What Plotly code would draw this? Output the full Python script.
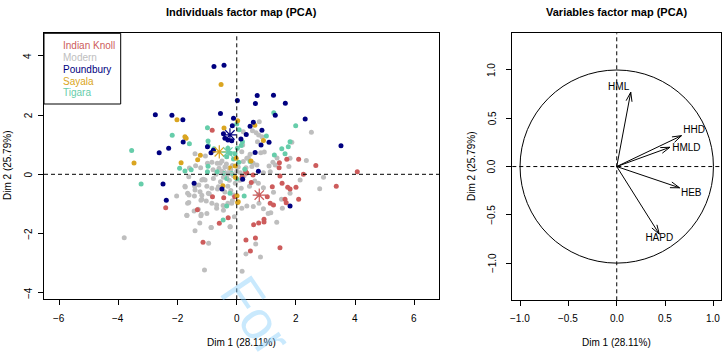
import math
import plotly.graph_objects as go

W, H = 723, 358

# ---------------- data: individuals (Dim1, Dim2) ----------------
ik_x = [-0.83, 1.44, 1.69, 2.09, 2.67, 1.43, 4.07, 0.30, 1.46, 2.25, 3.36, 0.49, 1.20, 1.53, 1.72, 1.80, 2.00,
        2.09, 1.63, 1.67, 1.03, 1.13, 1.24, 0.92, 0.92, 0.74, 0.57, 0.31, 0.63, 1.46, 0.46, -2.40, -1.33, -0.82,
        -0.44, -0.59, -0.29, -1.14, 0.18, -0.07, 0.55, 0.34]
ik_y = [1.49, 0.39, 0.51, 0.51, 0.30, 0.22, 0.09, 0.09, -0.06, 0.00, -0.40, -0.28, -0.42, -0.30, -0.44, -0.50, -0.44,
        -0.84, -0.84, -0.96, -0.76, -0.98, -1.04, -1.52, -1.61, -1.64, -1.70, -2.22, -2.15, -2.48, -2.59, -1.13, -1.20, -0.76,
        -0.79, -1.65, -1.47, -2.29, -0.08, -0.76, -0.02, 0.04]

mod_x = [2.52, 0.76, 0.65, 0.74, 1.86, 0.93, 0.81, 1.36, 1.22, 2.35, 1.09, 0.53, 0.85, 0.70, 1.30, 1.80, 1.76, 2.93,
         -1.41, -1.06, -1.60, -1.39, -0.66, 0.39, 0.31, 0.51, 0.68, 1.13, 0.90, -0.84, -1.22,
         -1.62, -1.75, -1.42, -1.13, -1.01, -2.03, -1.66, -1.43, -1.24, -0.96, -1.18, -0.84, -1.66, -1.44, -1.30, -1.01,
         -1.69, -1.21, -0.68, -0.45, -0.17, -1.41, -0.86, -0.23, -3.80, -0.95, -1.09, 0.18, 0.80, 0.64, 0.31, 1.15, 1.35,
         1.06, 0.90, 0.73, 0.75, 0.56, 0.34, 1.54, 1.51, 1.24, 1.80, 2.14, 2.80, 0.73, 0.61, 0.90, 0.15, 0.43,
         -1.74, -1.41, -1.28, -1.61, -1.18, -0.93, -1.62, -1.21, -1.03, -1.68, -1.20, -1.25, -0.87, -0.68, -0.46, -0.30,
         -0.15, -0.22, -0.08, 0.17, -1.07, -0.79, -0.62, -0.84, -1.18, -0.99, -0.56, 0.17, 0.22, 0.56, 0.34, 0.20, 0.22,
         0.45, -0.60, -0.50, -0.40, -0.30, -0.20, -0.10, 0.00, -0.45, -0.25, -0.55, -0.35, -0.15, -0.05, 0.10, -0.70,
         -0.30, -0.50, 0.05, -0.20, 0.12, -0.80, -0.65, -0.40, 0.25, -0.10]
mod_y = [1.42, 1.77, 1.40, 1.33, 1.08, 0.75, 0.73, 0.55, 0.41, 0.47, 0.28, 1.47, 1.27, 1.10, 0.31, 0.54, 0.26, -0.10,
         0.69, 0.62, 0.21, 0.29, 0.37, 0.56, 0.22, 0.26, 0.31, 0.09, 0.05, 0.41, 0.22,
         -0.08, -0.40, -0.40, -0.17, -0.40, -0.73, -0.64, -0.73, -0.59, -0.64, -0.84, -0.98, -0.98, -1.24, -1.18, -1.32,
         -1.38, -1.40, -1.15, -1.21, -0.98, -1.91, -1.80, -1.77, -2.14, -2.33, -3.23, -3.27, -2.79, -2.35, -2.69, -1.30, -1.62,
         -1.32, -1.16, -0.68, -0.98, -1.09, -1.07, -1.15, -0.84, -0.61, -0.64, -0.19, -0.49, -0.30, -0.23, -0.45, -0.47, -0.40,
         -0.43, -0.53, -0.36, -0.70, -0.71, -0.66, -0.95, -0.88, -0.90, -1.39, -1.35, -1.64, -1.80, -1.04, -1.05, -0.98,
         -0.89, -1.77, -1.43, -1.15, -0.19, -0.14, -0.42, -0.47, -0.19, 0.37, 0.37, 0.76, 0.43, 0.37, 0.54, 0.99, 1.44,
         0.68, 0.20, 0.10, 0.25, 0.00, 0.15, -0.05, 0.10, -0.10, -0.20, -0.25, 0.35, 0.30, -0.30, -0.20, 0.00,
         -0.40, 0.45, 0.25, -0.55, 0.05, 0.15, -0.50, -0.60, -0.05, -0.70]

pb_x = [-0.77, -0.43, 0.02, -2.75, -2.19, -1.82, -0.55, -0.11, -0.15, -1.81, -0.40, -0.30, -0.17, -0.45, -2.30, -2.62,
        -0.87, -0.79, -0.99, 0.69, 1.24, 0.63, 1.64, 1.30, 2.31, 0.56, 0.45, 0.85, 0.32, 3.52, 1.09, 0.82, 0.62, 0.73,
        -2.49, -2.38, -1.44, -0.50, 1.80, 0.20, 0.14]
pb_y = [3.64, 3.68, 2.49, 2.01, 1.99, 1.84, 2.05, 1.89, 1.64, 1.09, 1.22, 1.16, 1.13, 1.37, 0.88, 0.73,
        0.73, 0.81, 0.93, 2.66, 2.67, 2.39, 2.40, 1.99, 1.87, 1.76, 1.62, 1.49, 1.34, 0.96, 1.08, 0.99, 0.74, 0.10,
        -0.33, -0.88, -0.30, -0.50, -1.07, -0.17, 1.19]

say_x = [-0.53, -2.02, 0.03, -0.43, -1.75, -1.71, -3.47, -1.23, -1.32, -1.88, 0.61, 0.90, 0.48, -0.47, 0.03,
         -0.05, -0.23, -0.02, -0.05, 0.05, 0.01]
say_y = [3.03, 1.84, 1.81, 1.56, 1.27, 1.22, 0.38, 0.64, 0.49, 0.39, 1.66, 1.14, 0.45, -0.39, -0.95,
         0.28, 0.21, 0.54, -0.10, -0.93, -0.72]

tig_x = [-0.99, -2.18, -1.60, -3.55, -0.96, -1.93, -1.75, -1.54, 1.25, 1.99, 1.00, 1.80, 1.74, 1.52, 1.63, -3.23,
         -0.34, -0.46, 0.25, -0.97, -0.77, -0.99, -0.97, -0.30, -0.22, -0.06, 0.02, 0.15, -0.34, -0.11, 0.07, 0.00,
         0.08, 0.19, 1.27, 0.45, 0.27, -0.66, -0.42, -0.17, 0.00, -0.34, -0.23]
tig_y = [1.57, 1.32, 1.03, 0.80, 0.97, 0.20, 0.11, 0.15, 2.08, 1.64, 1.29, 1.10, 0.93, 0.86, 0.69, -0.33,
         -1.07, -1.54, -0.73, 1.12, 0.86, 0.09, 0.27, 0.88, 0.71, 0.69, 0.88, 0.97, 0.59, 0.52, 0.41, 1.70,
         1.50, 1.10, 0.65, 0.43, 0.17, 0.09, 0.03, 0.03, -0.15, -0.14, -0.64]

groups = ["Indian Knoll", "Modern", "Poundbury", "Sayala", "Tigara"]
group_colors = ["#CD5C5C", "#BEBEBE", "#000080", "#DAA520", "#66CDAA"]
centroid_x = [0.76, -0.30, -0.23, -0.59, -0.30]
centroid_y = [-0.70, 0.05, 1.33, 0.76, 0.75]

# ---------------- data: variables ----------------
var_names = ["HML", "HHD", "HMLD", "HEB", "HAPD"]
var_x = [0.145, 0.67, 0.55, 0.65, 0.44]
var_y = [0.77, 0.32, 0.20, -0.22, -0.70]
lab_x = [0.02, 0.80, 0.72, 0.77, 0.44]
lab_y = [0.82, 0.37, 0.19, -0.28, -0.75]

# ---------------- tick labels / texts ----------------
ind_xticks = [-6, -4, -2, 0, 2, 4, 6]
ind_yticks = [-4, -2, 0, 2, 4]
var_ticks = [-1.0, -0.5, 0.0, 0.5, 1.0]

title_left = "Individuals factor map (PCA)"
title_right = "Variables factor map (PCA)"
dim1_label = "Dim 1 (28.11%)"
dim2_label = "Dim 2 (25.79%)"

FONT = "Liberation Sans, Arial, Helvetica, sans-serif"


def px(xp):
    return xp / W


def py(yp):
    return 1 - yp / H


def fmt_int(v):
    return ("\u2212" + str(abs(v))) if v < 0 else str(v)


def fmt_1f(v):
    s = "%.1f" % abs(v)
    return ("\u2212" + s) if v < 0 else s


fig = go.Figure()

pts = {
    "Modern": (mod_x, mod_y),
    "Indian Knoll": (ik_x, ik_y),
    "Tigara": (tig_x, tig_y),
    "Sayala": (say_x, say_y),
    "Poundbury": (pb_x, pb_y),
}
for name in ["Modern", "Indian Knoll", "Tigara", "Sayala", "Poundbury"]:
    c = group_colors[groups.index(name)]
    xs, ys = pts[name]
    fig.add_trace(go.Scatter(x=xs, y=ys, mode="markers", name=name,
                             marker=dict(size=5, color=c, line=dict(width=0)),
                             xaxis="x", yaxis="y", showlegend=False, hoverinfo="skip"))

for i, g in enumerate(groups):
    fig.add_trace(go.Scatter(x=[centroid_x[i]], y=[centroid_y[i]], mode="markers",
                             marker=dict(symbol="asterisk-open", size=11, color=group_colors[i],
                                         line=dict(width=1.2, color=group_colors[i])),
                             xaxis="x", yaxis="y", showlegend=False, hoverinfo="skip"))

# arrows on the variables map
ah_len, ah_ang = 0.10, math.radians(18)
ax_, ay_ = [], []
for vx, vy in zip(var_x, var_y):
    L = math.hypot(vx, vy)
    ux, uy = vx / L, vy / L
    ax_ += [0, vx, None]
    ay_ += [0, vy, None]
    for s in (1, -1):
        ca, sa = math.cos(ah_ang), math.sin(s * ah_ang)
        rx = ux * ca - uy * sa
        ry = ux * sa + uy * ca
        ax_ += [vx - ah_len * rx, vx, None]
        ay_ += [vy - ah_len * ry, vy, None]
fig.add_trace(go.Scatter(x=ax_, y=ay_, mode="lines", line=dict(color="black", width=1),
                         xaxis="x2", yaxis="y2", showlegend=False, hoverinfo="skip"))
fig.add_trace(go.Scatter(x=lab_x, y=lab_y, mode="text", text=var_names,
                         textfont=dict(family=FONT, size=10, color="black"),
                         xaxis="x2", yaxis="y2", showlegend=False, hoverinfo="skip"))

axis_common = dict(showgrid=False, zeroline=False, showline=True, mirror=True, linecolor="black",
                   linewidth=1, ticks="outside", ticklen=5, tickcolor="black", showticklabels=False)

fig.update_layout(
    width=W, height=H, margin=dict(l=0, r=0, t=0, b=0),
    paper_bgcolor="white", plot_bgcolor="white", showlegend=False,
    xaxis=dict(domain=[px(44), px(439)], range=[-6.51, 6.83], tickvals=ind_xticks,
               anchor="y", **axis_common),
    yaxis=dict(domain=[py(299.3), py(33.3)], range=[-4.22, 4.76], tickvals=ind_yticks,
               anchor="x", **axis_common),
    xaxis2=dict(domain=[px(512.3), px(720.7)], range=[-1.08, 1.075], tickvals=var_ticks,
                anchor="y2", **axis_common),
    yaxis2=dict(domain=[py(300.3), py(33.3)], range=[-1.385, 1.38], tickvals=var_ticks,
                anchor="x2", **axis_common),
)

shapes = []
for xr, yr in (("x", "y"), ("x2", "y2")):
    shapes.append(dict(type="line", xref=xr, yref=yr + " domain", x0=0, x1=0, y0=0, y1=1,
                       line=dict(color="black", width=1, dash="4px,3px")))
    shapes.append(dict(type="line", xref=xr + " domain", yref=yr, x0=0, x1=1, y0=0, y1=0,
                       line=dict(color="black", width=1, dash="4px,3px")))
shapes.append(dict(type="circle", xref="x2", yref="y2", x0=-1, y0=-1, x1=1, y1=1,
                   line=dict(color="black", width=1)))
# legend box
shapes.append(dict(type="rect", xref="paper", yref="paper", x0=px(44), x1=px(120.7), y0=py(104), y1=py(33.3),
                   line=dict(color="black", width=1), fillcolor="rgba(0,0,0,0)"))

tick_font = dict(family=FONT, size=10, color="black")
annotations = []
# tick labels
for v in ind_xticks:
    annotations.append(dict(xref="x", yref="paper", x=v, y=py(318.3), text=fmt_int(v), showarrow=False,
                            xanchor="center", yanchor="middle", font=tick_font))
for v in ind_yticks:
    annotations.append(dict(xref="paper", yref="y", x=px(28.3), y=v, text=fmt_int(v), showarrow=False,
                            textangle=-90, xanchor="center", yanchor="middle", font=tick_font))
for v in var_ticks:
    annotations.append(dict(xref="x2", yref="paper", x=v, y=py(318.3), text=fmt_1f(v), showarrow=False,
                            xanchor="center", yanchor="middle", font=tick_font))
    annotations.append(dict(xref="paper", yref="y2", x=px(492), y=v, text=fmt_1f(v), showarrow=False,
                            textangle=-90, xanchor="center", yanchor="middle", font=tick_font))

for i, g in enumerate(groups):
    annotations.append(dict(xref="paper", yref="paper", x=px(61), y=py(45.7 + i * 11.8), text=g,
                            showarrow=False, xanchor="left", yanchor="middle",
                            font=dict(family=FONT, size=10, color=group_colors[i])))
annotations += [
    dict(xref="paper", yref="paper", x=px(241.5), y=py(12), text="<b>" + title_left + "</b>", showarrow=False,
         xanchor="center", yanchor="middle", font=dict(family=FONT, size=11, color="black")),
    dict(xref="paper", yref="paper", x=px(616.5), y=py(12), text="<b>" + title_right + "</b>", showarrow=False,
         xanchor="center", yanchor="middle", font=dict(family=FONT, size=11, color="black")),
    dict(xref="paper", yref="paper", x=px(241.5), y=py(342), text=dim1_label, showarrow=False,
         xanchor="center", yanchor="middle", font=dict(family=FONT, size=10, color="black")),
    dict(xref="paper", yref="paper", x=px(616.5), y=py(342), text=dim1_label, showarrow=False,
         xanchor="center", yanchor="middle", font=dict(family=FONT, size=10, color="black")),
    dict(xref="paper", yref="paper", x=px(7), y=py(166), text=dim2_label, showarrow=False, textangle=-90,
         xanchor="center", yanchor="middle", font=dict(family=FONT, size=10, color="black")),
    dict(xref="paper", yref="paper", x=px(472), y=py(167), text=dim2_label, showarrow=False, textangle=-90,
         xanchor="center", yanchor="middle", font=dict(family=FONT, size=10, color="black")),
    # faint watermark
    dict(xref="paper", yref="paper", x=px(256), y=py(315), text="For", showarrow=False, textangle=56,
         xanchor="center", yanchor="middle", font=dict(family=FONT, size=54, color="rgba(135,206,250,0.45)")),
]

fig.update_layout(shapes=shapes, annotations=annotations)
fig.write_html("out.html")
